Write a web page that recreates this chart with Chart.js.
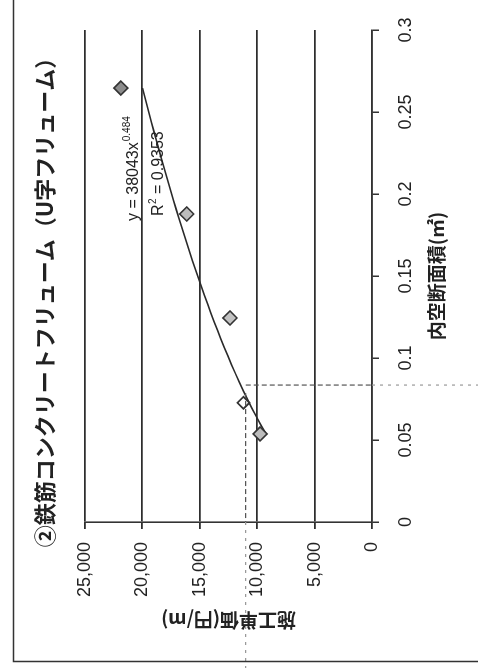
<!DOCTYPE html>
<html><head><meta charset="utf-8">
<script src="https://cdn.jsdelivr.net/npm/chart.js@4.4.1/dist/chart.umd.min.js"></script>
<style>
html,body{margin:0;padding:0;background:#fff;width:478px;height:668px;overflow:hidden;}
/* the sheet is laid out landscape and turned a quarter turn */
#sheet{position:absolute;left:0;top:0;width:668px;height:478px;transform-origin:0 0;transform:translateY(668px) rotate(-90deg);background:#fff;}
canvas{display:block;}
</style></head><body>
<div id="sheet"><canvas id="c" width="668" height="478"></canvas></div>
<script>
const chartTitle = '②鉄筋コンクリートフリューム（U字フリューム）';
const xAxisTitle = '内空断面積(㎡)';
const yAxisTitle = '施工単価(円/m)';
const xTickLabels = ['0', '0.05', '0.1', '0.15', '0.2', '0.25', '0.3'];
const yTickLabels = ['0', '5,000', '10,000', '15,000', '20,000', '25,000'];

// surveyed flumes: inner cross-section area (m²) and unit cost (yen/m)
const flumeArea = [0.0537, 0.1244, 0.1878, 0.2646];
const flumeCost = [9750, 12370, 16140, 21880];

// flume picked out for reading
const markedArea = [0.0727];
const markedCost = [11200];

// power trendline, y = 38043 x^0.484, R² = 0.9353
const trendCoef = 38043;
const trendExp = 0.484;
const trendR2 = '0.9353';

// reading guide through the trendline
const readArea = 0.0835;
const readCost = 11000;

const FONT_JP = '"Noto Sans CJK JP", "Noto Sans", sans-serif';
const FONT_NUM = '"Liberation Sans Narrow", "Liberation Sans", Arial, sans-serif';
const INK = '#222';

// trendline drawn over the span of the surveyed data
const trendPoints = [];
{
  const lo = Math.min(...flumeArea), hi = Math.max(...flumeArea), n = 40;
  for (let i = 0; i <= n; i++) {
    const a = lo + (hi - lo) * i / n;
    trendPoints.push({x: a, y: trendCoef * Math.pow(a, trendExp)});
  }
}

const decor = {
  id: 'decor',
  beforeDraw(chart) {
    const ctx = chart.ctx;
    ctx.save();
    ctx.fillStyle = '#fff';
    ctx.fillRect(0, 0, chart.width, chart.height);
    ctx.restore();
  },
  afterDatasetsDraw(chart) {
    const ctx = chart.ctx;
    const area = chart.chartArea;
    const xs = chart.scales.x, ys = chart.scales.y;
    const px = xs.getPixelForValue(readArea);
    const py = ys.getPixelForValue(readCost);
    ctx.save();
    ctx.lineWidth = 1.2;
    ctx.setLineDash([5, 3]);
    // inside the plot the guides are darker, outside they fade
    ctx.strokeStyle = '#555';
    ctx.beginPath();
    ctx.moveTo(px, py);
    ctx.lineTo(px, area.bottom);
    ctx.moveTo(px - 8, py);
    ctx.lineTo(area.left, py);
    ctx.stroke();
    ctx.strokeStyle = '#999';
    ctx.setLineDash([3, 5]);
    ctx.beginPath();
    ctx.moveTo(px, area.bottom);
    ctx.lineTo(px, chart.height);
    ctx.moveTo(area.left, py);
    ctx.lineTo(0, py);
    ctx.stroke();
    ctx.restore();
  },
  afterDraw(chart) {
    const ctx = chart.ctx;
    ctx.save();
    // outer frame
    ctx.strokeStyle = '#333';
    ctx.lineWidth = 1.5;
    ctx.beginPath();
    ctx.moveTo(chart.width, 13.5);
    ctx.lineTo(6.5, 13.5);
    ctx.lineTo(6.5, chart.height);
    ctx.stroke();
    // chart title
    ctx.fillStyle = INK;
    ctx.textAlign = 'center';
    ctx.textBaseline = 'middle';
    ctx.font = 'bold 22px ' + FONT_JP;
    ctx.fillText(chartTitle, 371, 45);
    // trendline equation
    ctx.textAlign = 'left';
    ctx.textBaseline = 'alphabetic';
    ctx.font = '16px ' + FONT_NUM;
    const ex = 447, ey = 138;
    const base = 'y = ' + trendCoef + 'x';
    ctx.fillText(base, ex, ey);
    const w = ctx.measureText(base).width;
    ctx.font = '10px ' + FONT_NUM;
    ctx.fillText(String(trendExp), ex + w + 1, ey - 8);
    ctx.font = '16px ' + FONT_NUM;
    ctx.fillText('R', 452, 163);
    const rw = ctx.measureText('R').width;
    ctx.font = '10px ' + FONT_NUM;
    ctx.fillText('2', 452 + rw + 0.5, 156);
    ctx.font = '16px ' + FONT_NUM;
    ctx.fillText(' = ' + trendR2, 452 + rw + 6, 163);
    ctx.restore();
  }
};

new Chart(document.getElementById('c'), {
  type: 'scatter',
  data: {
    datasets: [
      {
        label: 'trend',
        data: trendPoints,
        showLine: true,
        borderColor: '#2a2a2a',
        borderWidth: 1.6,
        pointRadius: 0,
        tension: 0,
        order: 3
      },
      {
        label: 'flumes',
        data: flumeArea.map((a, i) => ({x: a, y: flumeCost[i]})),
        pointStyle: 'rectRot',
        pointRadius: 7,
        pointBorderWidth: 1.6,
        pointBorderColor: '#333',
        pointBackgroundColor: ['#bcbcbc', '#c2c2c2', '#bcbcbc', '#8c8c8c'],
        showLine: false,
        order: 1
      },
      {
        label: 'marked',
        data: markedArea.map((a, i) => ({x: a, y: markedCost[i]})),
        pointStyle: 'rectRot',
        pointRadius: 6,
        pointBorderWidth: 1.8,
        pointBorderColor: '#333',
        pointBackgroundColor: '#fff',
        showLine: false,
        order: 2
      }
    ]
  },
  options: {
    responsive: false,
    animation: false,
    devicePixelRatio: 1,
    layout: {padding: {top: 85, right: 30, bottom: 30, left: 36}},
    plugins: {legend: {display: false}, tooltip: {enabled: false}, title: {display: false}},
    scales: {
      x: {
        type: 'linear',
        min: 0, max: 0.3,
        afterFit(scale) { scale.height = 76; },
        afterBuildTicks(scale) { scale.ticks = xTickLabels.map(t => ({value: parseFloat(t)})); },
        ticks: {
          callback: (v, i) => xTickLabels[i],
          maxRotation: 0, autoSkip: false,
          padding: 16,
          color: INK,
          font: {family: FONT_NUM, size: 18}
        },
        grid: {drawOnChartArea: false, drawTicks: true, tickLength: 7, color: '#333', lineWidth: 1.5},
        border: {display: true, color: '#333', width: 1.6},
        title: {display: true, text: xAxisTitle, color: INK, padding: 0,
                font: {family: FONT_JP, size: 19, weight: 'bold'}}
      },
      y: {
        type: 'linear',
        min: 0, max: 25000,
        afterFit(scale) { scale.width = 110; },
        afterBuildTicks(scale) { scale.ticks = yTickLabels.map(t => ({value: parseFloat(t.replace(/,/g, ''))})); },
        ticks: {
          callback: (v, i) => yTickLabels[i],
          padding: 13,
          color: INK,
          font: {family: FONT_NUM, size: 18}
        },
        grid: {drawTicks: true, tickLength: 7, color: '#2e2e2e', lineWidth: 1.8},
        border: {display: true, color: '#333', width: 1.6},
        title: {display: true, text: yAxisTitle, color: INK, padding: 0,
                font: {family: FONT_JP, size: 19, weight: 'bold'}}
      }
    }
  },
  plugins: [decor]
});
</script>
</body></html>
